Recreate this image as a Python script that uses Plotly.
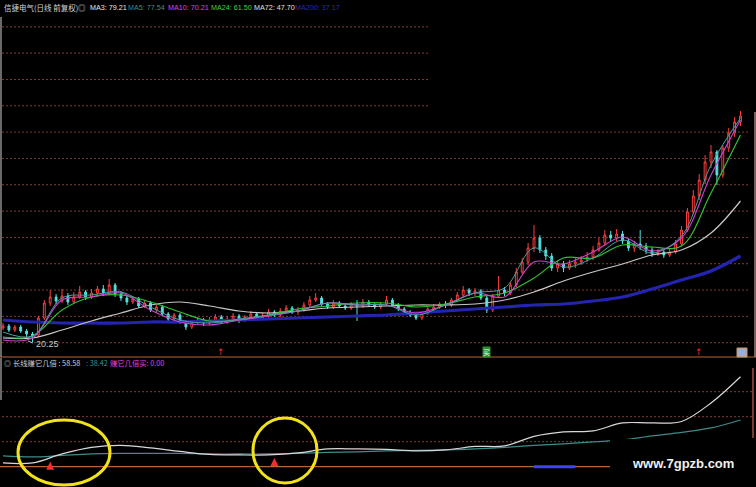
import plotly.graph_objects as go

# ---------------- data ----------------
bars = list(range(126))
open_ = [23.75, 24.25, 23.25, 24.0, 23.0, 22.25, 22.0, 26.25, 30.0, 31.5,
         30.5, 31.75, 30.25, 31.5, 32.75, 31.5, 32.5, 33.5, 32.5, 34.5,
         32.25, 31.25, 30.25, 31.0, 29.25, 30.0, 28.25, 29.0, 27.25, 26.0,
         27.0, 25.25, 24.0, 25.25, 25.75, 25.0, 25.75, 26.5, 25.25, 26.0,
         26.75, 25.75, 26.5, 27.25, 26.25, 26.75, 27.75, 27.0, 28.0, 28.75,
         27.75, 28.25, 29.5, 30.75, 31.25, 29.75, 29.0, 30.0, 29.25, 28.75,
         29.75, 29.25, 30.25, 29.5, 29.0, 29.75, 30.75, 29.5, 28.5, 27.75,
         27.0, 26.25, 27.5, 28.5, 29.0, 29.75, 29.5, 30.75, 32.0, 33.25,
         32.5, 33.0, 31.25, 28.25, 31.75, 33.25, 32.5, 34.5, 37.75, 40.25,
         43.75, 46.25, 43.25, 41.75, 38.75, 39.75, 38.75, 39.75, 40.25, 40.75,
         41.5, 43.25, 45.0, 47.0, 46.25, 47.25, 45.5, 43.75, 44.75, 44.25,
         43.25, 42.25, 42.75, 42.0, 42.75, 44.75, 48.25, 52.75, 56.75, 60.75,
         65.25, 67.75, 62.0, 68.75, 72.5, 75.25]
close = [24.25, 23.25, 24.0, 23.0, 22.25, 21.75, 26.25, 30.0, 31.5, 30.5,
         31.75, 30.25, 31.5, 32.75, 31.5, 32.5, 33.5, 32.5, 34.5, 32.25,
         31.25, 30.25, 31.0, 29.25, 30.0, 28.25, 29.0, 27.25, 26.0, 27.0,
         25.25, 24.0, 25.25, 25.75, 25.0, 25.75, 26.5, 25.25, 26.0, 26.75,
         25.75, 26.5, 27.25, 26.25, 26.75, 27.75, 27.0, 28.0, 28.75, 27.75,
         28.25, 29.5, 30.75, 31.25, 29.75, 29.0, 30.0, 29.25, 28.75, 29.75,
         29.25, 30.25, 29.5, 29.0, 29.75, 30.75, 29.5, 28.5, 27.75, 27.0,
         26.25, 27.5, 28.5, 29.0, 29.75, 29.5, 30.75, 32.0, 33.25, 32.5,
         33.0, 31.25, 28.25, 31.75, 33.25, 32.5, 34.5, 37.75, 40.25, 43.75,
         46.25, 43.25, 41.75, 38.75, 39.75, 38.75, 39.75, 40.25, 40.75, 41.5,
         43.25, 45.0, 47.0, 46.25, 47.25, 45.5, 43.75, 44.75, 44.25, 43.25,
         42.25, 42.75, 42.0, 42.75, 44.75, 48.25, 52.75, 56.75, 60.75, 65.25,
         67.75, 62.0, 68.75, 72.5, 75.25, 76.75]
high = [25.0, 24.75, 24.5, 24.5, 23.5, 22.75, 26.75, 30.75, 33.25, 32.25,
        33.5, 32.5, 32.75, 34.25, 33.25, 33.5, 34.25, 34.5, 36.0, 35.0,
        33.0, 31.75, 31.75, 31.5, 30.75, 30.5, 29.5, 29.5, 27.75, 27.5,
        27.5, 25.75, 25.75, 26.5, 26.25, 26.5, 27.25, 27.0, 26.75, 27.5,
        27.25, 27.0, 28.0, 27.75, 27.5, 28.5, 28.25, 28.75, 29.5, 29.25,
        29.0, 30.25, 31.75, 32.5, 31.75, 30.25, 30.75, 30.5, 30.0, 30.25,
        30.75, 31.0, 30.75, 30.0, 30.25, 31.75, 31.25, 30.0, 29.0, 28.25,
        27.5, 28.0, 29.0, 29.75, 30.25, 30.5, 31.25, 32.75, 34.25, 33.75,
        33.75, 33.5, 31.75, 32.25, 36.75, 34.0, 35.25, 38.75, 41.25, 45.0,
        49.5, 47.0, 44.0, 42.5, 40.75, 40.5, 40.75, 41.25, 41.75, 42.75,
        44.25, 46.25, 48.25, 48.0, 48.5, 48.0, 46.25, 45.5, 48.25, 45.0,
        44.0, 43.5, 43.25, 43.5, 45.75, 49.25, 53.75, 58.25, 62.25, 67.0,
        69.5, 68.25, 69.5, 73.75, 76.5, 78.0]
low = [23.25, 22.75, 22.75, 22.5, 21.5, 20.25, 21.5, 25.75, 29.25, 29.75,
       30.0, 29.5, 29.75, 31.0, 30.75, 31.0, 31.75, 31.75, 32.0, 31.5,
       30.5, 29.5, 29.75, 28.75, 28.75, 27.75, 27.5, 26.75, 25.5, 25.25,
       24.75, 23.25, 23.5, 24.75, 24.25, 24.5, 25.25, 24.75, 24.75, 25.5,
       25.0, 25.25, 26.0, 25.75, 25.75, 26.25, 26.5, 26.5, 27.5, 27.25,
       27.0, 27.75, 29.0, 30.25, 29.25, 28.5, 28.5, 28.75, 28.25, 28.25,
       25.5, 28.75, 29.0, 28.5, 28.5, 29.25, 29.0, 28.0, 27.25, 26.5,
       25.75, 25.75, 27.0, 28.0, 28.5, 28.75, 29.0, 30.25, 31.5, 31.75,
       31.75, 30.75, 27.5, 27.75, 31.25, 31.75, 32.0, 34.0, 37.25, 39.5,
       42.75, 42.5, 40.75, 38.0, 37.75, 37.75, 38.25, 38.75, 39.5, 40.25,
       40.75, 42.75, 44.25, 45.25, 45.5, 44.75, 43.0, 42.75, 43.25, 42.25,
       41.5, 41.75, 41.25, 41.5, 42.25, 44.25, 47.75, 52.25, 55.75, 59.75,
       63.75, 59.5, 61.25, 67.75, 71.5, 74.25]

ma_bars = list(range(0, 126, 5))
ma5 = [22.75, 21.75, 31.25, 32.0, 32.75, 29.0, 25.75, 25.0, 26.0, 27.0, 28.0, 30.0, 29.5,
       29.5, 27.0, 29.5, 32.5, 33.75, 43.75, 39.0, 41.25, 45.75, 42.5, 46.75, 64.5, 76.25]
ma10 = [20.75, 21.25, 30.75, 31.5, 32.5, 28.25, 25.25, 24.5, 25.75, 26.75, 28.0, 30.0, 29.5,
        29.5, 27.5, 29.5, 32.5, 31.5, 40.25, 39.75, 42.75, 46.5, 43.0, 46.25, 62.0, 75.75]
ma24 = [21.5, 21.75, 28.25, 31.5, 32.0, 30.25, 27.75, 25.5, 25.75, 27.0, 28.5, 29.25, 30.0,
        30.0, 29.0, 29.75, 31.5, 32.5, 36.25, 41.25, 41.25, 44.5, 44.0, 44.25, 57.5, 72.0]
ma72 = [21.25, 21.25, 23.25, 25.5, 27.5, 29.5, 30.25, 29.25, 28.0, 27.5, 28.0, 28.75, 29.0,
        29.25, 29.5, 29.5, 29.75, 30.75, 32.75, 35.5, 37.75, 39.75, 42.0, 43.25, 47.5, 55.5]
ma200 = [25.75, 25.25, 25.0, 25.0, 25.0, 25.25, 25.25, 25.5, 25.75, 26.0, 26.25, 26.5, 26.75,
         27.0, 27.5, 28.0, 28.5, 29.0, 29.5, 29.75, 30.5, 31.5, 33.5, 35.75, 38.0, 41.75]

# lower indicator panel
long_line = [21.5, 21.5, 25.1, 27.7, 28.5, 27.5, 26.1, 24.9, 24.7, 24.7, 25.5, 27.1, 27.1,
             26.9, 26.3, 26.7, 28.1, 28.3, 32.1, 33.9, 34.3, 37.5, 37.5, 38.1, 45.5, 56.0]
slow_line = [24.3, 23.9, 24.5, 25.1, 25.3, 25.3, 25.3, 25.1, 25.1, 25.1, 25.3, 25.7, 25.9,
             26.3, 26.5, 26.7, 27.1, 27.7, 28.5, 29.1, 29.9, 30.7, 32.3, 33.7, 35.5, 38.7]
arrow_bars = [8, 46]
arrow_vals = [22.0, 23.5]
buy_bars = [90, 91, 92, 93, 94, 95, 96, 97]
buy_vals = [20, 20, 20, 20, 20, 20, 20, 20]

grid_upper = [20.08, 26.66, 33.24, 39.82, 46.40, 52.98, 59.56, 66.14, 72.72, 79.30, 85.88, 92.46, 99.04]
grid_upper_short = [79.30, 85.88, 92.46, 99.04]
grid_lower = [30, 40, 50]
zero_lower = 20

header_items = [("MA3: 79.21", "#e8e8e8"), ("MA5: 77.54", "#3f8f8f"), ("MA10: 70.21", "#e040e0"),
                ("MA24: 61.50", "#40d040"), ("MA72: 47.70", "#e0e0e0"), ("MA200: 37.17", "#2a2ab8")]

# ---------------- layout helpers ----------------
W, H = 756, 487
def px(x):
    return x / W
def py(y):
    return 1 - y / H

fig = go.Figure()

fig.add_trace(go.Candlestick(
    x=bars, open=open_, high=high, low=low, close=close,
    increasing=dict(line=dict(color="#ff3c3c", width=1), fillcolor="#000000"),
    decreasing=dict(line=dict(color="#54e0e0", width=1), fillcolor="#54e0e0"),
    whiskerwidth=0, hoverinfo="skip", xaxis="x", yaxis="y", showlegend=False))

for vals, col, w in [(ma200, "#2424b0", 3.2), (ma72, "#c8c8c8", 1.2), (ma24, "#30c030", 1.2),
                     (ma10, "#d040d0", 1.1), (ma5, "#4aa0a0", 1.0)]:
    fig.add_trace(go.Scatter(x=ma_bars, y=vals, mode="lines", line=dict(color=col, width=w, shape="spline"),
                             hoverinfo="skip", showlegend=False, xaxis="x", yaxis="y"))

fig.add_trace(go.Scatter(x=ma_bars, y=slow_line, mode="lines", line=dict(color="#3c8c8c", width=1.2, shape="spline"),
                         hoverinfo="skip", showlegend=False, xaxis="x2", yaxis="y2"))
fig.add_trace(go.Scatter(x=ma_bars, y=long_line, mode="lines", line=dict(color="#d8d8d8", width=1.2, shape="spline"),
                         hoverinfo="skip", showlegend=False, xaxis="x2", yaxis="y2"))
fig.add_trace(go.Scatter(x=buy_bars, y=buy_vals, mode="lines", line=dict(color="#4040ff", width=3),
                         hoverinfo="skip", showlegend=False, xaxis="x2", yaxis="y2"))
fig.add_trace(go.Scatter(x=arrow_bars, y=arrow_vals, mode="markers",
                         marker=dict(symbol="arrow-up", size=8, color="#ff2a2a"),
                         hoverinfo="skip", showlegend=False, xaxis="x2", yaxis="y2"))

xr = [-3 / 5.9, -3 / 5.9 + W / 5.9]
ax_common = dict(showgrid=False, zeroline=False, showticklabels=False, showline=False, ticks="")
fig.update_layout(
    width=W, height=H, margin=dict(l=0, r=0, t=0, b=0),
    paper_bgcolor="#000000", plot_bgcolor="#000000",
    xaxis=dict(domain=[0, 1], range=xr, anchor="y", rangeslider=dict(visible=False), **ax_common),
    xaxis2=dict(domain=[0, 1], range=xr, anchor="y2", matches="x", **ax_common),
    yaxis=dict(domain=[py(357), py(17)], range=[16.5, 101.5], **ax_common),
    yaxis2=dict(domain=[0, py(358)], range=[11.88, 63.48], **ax_common),
    showlegend=False, hovermode=False, boxgap=0.55,
)

shapes = []
gridcol = "#7e3c3c"
for g in grid_upper:
    x1 = px(430) if g in grid_upper_short else px(748)
    shapes.append(dict(type="line", xref="paper", yref="y", x0=px(2), x1=x1, y0=g, y1=g,
                       line=dict(color=gridcol, width=1, dash="2px,2px"), layer="below"))
for g in grid_lower:
    shapes.append(dict(type="line", xref="paper", yref="y2", x0=px(2), x1=px(752), y0=g, y1=g,
                       line=dict(color=gridcol, width=1, dash="2px,2px"), layer="below"))
shapes.append(dict(type="line", xref="paper", yref="y2", x0=0, x1=1, y0=zero_lower, y1=zero_lower,
                   line=dict(color="#b4643c", width=1.2), layer="below"))
# panel separator and borders
shapes.append(dict(type="line", xref="paper", yref="paper", x0=0, x1=1, y0=py(357), y1=py(357),
                   line=dict(color="#b4643c", width=1.2)))
shapes.append(dict(type="line", xref="paper", yref="paper", x0=px(1), x1=px(1), y0=py(357), y1=py(17),
                   line=dict(color="#8c8c8c", width=1.5)))
shapes.append(dict(type="line", xref="paper", yref="paper", x0=px(1), x1=px(1), y0=py(400), y1=py(358),
                   line=dict(color="#8c8c8c", width=1.5)))
shapes.append(dict(type="line", xref="paper", yref="paper", x0=px(755), x1=px(755), y0=py(357), y1=py(112),
                   line=dict(color="#a08080", width=1.5)))
shapes.append(dict(type="line", xref="paper", yref="paper", x0=px(753), x1=px(753), y0=py(438), y1=py(368),
                   line=dict(color="#a0503c", width=1.5)))
# low label leader
shapes.append(dict(type="line", xref="paper", yref="paper", x0=px(28), x1=px(33), y0=py(341), y1=py(343),
                   line=dict(color="#c0c0c0", width=1)))
# watermark backing box
shapes.append(dict(type="rect", xref="paper", yref="paper", x0=px(610), x1=1, y0=0, y1=py(439),
                   fillcolor="#000000", line=dict(width=0), layer="above"))
# end-of-chart signal box
shapes.append(dict(type="rect", xref="paper", yref="paper", x0=px(737), x1=px(747), y0=py(357), y1=py(348),
                   fillcolor="#9ab0d0", line=dict(color="#d09060", width=1), layer="above"))
# yellow hand-drawn circles
shapes.append(dict(type="circle", xref="paper", yref="paper", x0=px(18), x1=px(110), y0=py(485), y1=py(420),
                   line=dict(color="#f2e21a", width=3), layer="above"))
shapes.append(dict(type="circle", xref="paper", yref="paper", x0=px(253), x1=px(317), y0=py(483), y1=py(418),
                   line=dict(color="#f2e21a", width=3), layer="above"))
fig.update_layout(shapes=shapes)

ann = []
cjk = "Noto Sans CJK SC"
latin = "Liberation Sans, Arial, sans-serif"
ann.append(dict(text="信捷电气(日线 前复权)", x=px(2), y=py(7), xref="paper", yref="paper",
                xanchor="left", yanchor="middle", showarrow=False,
                font=dict(family=cjk, size=7.5, color="#d2d2d2")))
ann.append(dict(text="◎", x=px(76), y=py(7), xref="paper", yref="paper",
                xanchor="left", yanchor="middle", showarrow=False,
                font=dict(family=cjk, size=7.5, color="#c8c8c8")))
hx = [88, 126, 166, 209, 252, 293]
for (t, c), xx in zip(header_items, hx):
    ann.append(dict(text=t, x=px(xx), y=py(7), xref="paper", yref="paper",
                    xanchor="left", yanchor="middle", showarrow=False,
                    font=dict(family=latin, size=7.2, color=c)))
# lower title
ann.append(dict(text="◎", x=px(2), y=py(363), xref="paper", yref="paper",
                xanchor="left", yanchor="middle", showarrow=False,
                font=dict(family=cjk, size=7, color="#c8c8c8")))
ann.append(dict(text="长线赚它几倍 : 58.58", x=px(11), y=py(363), xref="paper", yref="paper",
                xanchor="left", yanchor="middle", showarrow=False,
                font=dict(family=cjk, size=7.3, color="#d2d2d2")))
ann.append(dict(text=": 38.42", x=px(84), y=py(363), xref="paper", yref="paper",
                xanchor="left", yanchor="middle", showarrow=False,
                font=dict(family=cjk, size=7.3, color="#3f8f8f")))
ann.append(dict(text="赚它几倍买: 0.00", x=px(108), y=py(363), xref="paper", yref="paper",
                xanchor="left", yanchor="middle", showarrow=False,
                font=dict(family=cjk, size=7.3, color="#e040e0")))
# low price label
ann.append(dict(text="20.25", x=px(34), y=py(344), xref="paper", yref="paper",
                xanchor="left", yanchor="middle", showarrow=False,
                font=dict(family=latin, size=9, color="#c8c8c8")))
# signal glyphs at the bottom of the price panel
for b in [37, 118]:
    ann.append(dict(text="↑", x=b, y=py(352), xref="x", yref="paper", xanchor="center", yanchor="middle",
                    showarrow=False, font=dict(family="DejaVu Sans", size=9, color="#ff2a2a")))
ann.append(dict(text="买", x=82, y=py(352), xref="x", yref="paper", xanchor="center", yanchor="middle",
                showarrow=False, bgcolor="#2e8e2e", borderpad=0,
                font=dict(family=cjk, size=7, color="#e8ffe8")))
# watermark
ann.append(dict(text="<b>www.7gpzb.com</b>", x=px(683), y=py(463), xref="paper", yref="paper",
                xanchor="center", yanchor="middle", showarrow=False,
                font=dict(family=latin, size=13, color="#f0f0f0")))
fig.update_layout(annotations=ann)

fig.write_html("out.html", config={"displayModeBar": False},
               post_script="document.body.style.margin='0';document.body.style.overflow='hidden';")
